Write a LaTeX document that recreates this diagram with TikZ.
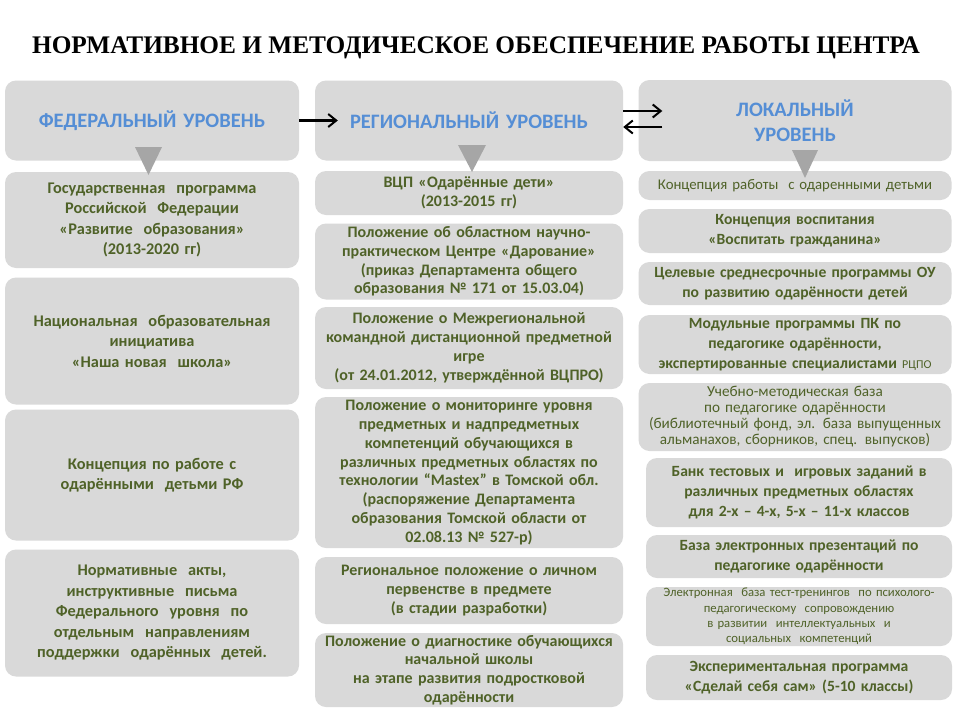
\documentclass[tikz,border=0pt]{standalone}
\usepackage{fontspec}
\setmainfont{Carlito}
\newfontfamily\titlefont{Liberation Serif}
\usetikzlibrary{arrows.meta}

\definecolor{boxgray}{HTML}{D9D9D9}
\definecolor{trigray}{HTML}{A6A6A6}
\definecolor{textgreen}{HTML}{4F6228}
\definecolor{headblue}{HTML}{558ED5}

\tikzset{
	box/.style={fill=boxgray, rounded corners=11pt, text=textgreen, align=center, inner sep=0pt},
	head/.style={box, text=headblue, minimum height=80, font=\bfseries\fontsize{20.5}{25}\selectfont},
	fedcol/.style={minimum width=294, text width=290},
	regcol/.style={minimum width=308, text width=306},
	loccol/.style={minimum width=313, text width=311},
	locnarrow/.style={minimum width=306, text width=304},
	fedtext/.style={font=\bfseries\fontsize{16.3}{20.5}\selectfont},
	regtext/.style={font=\bfseries\fontsize{16}{18.8}\selectfont},
	loctext/.style={font=\bfseries\fontsize{15.6}{20}\selectfont},
	pointer/.style={fill=trigray},
	link/.style={line width=2.4pt, -{Straight Barb[length=8pt,width=13pt,line width=2pt]}},
}

\begin{document}
\begin{tikzpicture}[x=1pt, y=-1pt]
	% Fondo y límites
	\fill[white] (0,0) rectangle (960,720);
	\useasboundingbox (0,0) rectangle (960,720);

	% Título
	\node[font=\titlefont\bfseries\fontsize{25.3}{30}\selectfont] (title) at (476,48)
		{НОРМАТИВНОЕ И МЕТОДИЧЕСКОЕ ОБЕСПЕЧЕНИЕ РАБОТЫ ЦЕНТРА};

	% Cabeceras de niveles
	\node[head, fedcol] (fed) at (152,120.5) {ФЕДЕРАЛЬНЫЙ УРОВЕНЬ};
	\node[head, regcol] (reg) at (469,120.5) {РЕГИОНАЛЬНЫЙ УРОВЕНЬ};
	\node[head, loccol, minimum height=81] (loc) at (795,120.5) {ЛОКАЛЬНЫЙ\\УРОВЕНЬ};

	% Nivel federal
	\node[box, fedcol, fedtext, minimum height=96] (f1) at (152,220)
		{Государственная~ программа\\Российской~ Федерации\\«Развитие~ образования»\\(2013-2020 гг)};
	\node[box, fedcol, fedtext, minimum height=127] (f2) at (152,341)
		{Национальная~ образовательная\\инициатива\\«Наша новая~ школа»\\[22pt]};
	\node[box, fedcol, fedtext, minimum height=131] (f3) at (152,475)
		{Концепция по работе с\\одарёнными~ детьми РФ};
	\node[box, fedcol, fedtext, minimum height=127] (f4) at (152,613)
		{Нормативные~ акты,\\инструктивные~ письма\\Федерального~ уровня~ по\\отдельным~ направлениям\\поддержки~ одарённых~ детей.};

	% Nivel regional
	\node[box, regcol, regtext, minimum height=44] (r1) at (469,193)
		{ВЦП «Одарённые дети»\\(2013-2015 гг)};
	\node[box, regcol, regtext, minimum height=76] (r2) at (469,261.5)
		{Положение об областном научно-\\практическом Центре «Дарование»\\(приказ Департамента общего\\образования № 171 от 15.03.04)};
	\node[box, regcol, regtext, minimum height=82] (r3) at (469,348)
		{Положение о Межрегиональной\\командной дистанционной предметной\\игре\\(от 24.01.2012, утверждённой ВЦПРО)};
	\node[box, regcol, regtext, minimum height=151] (r4) at (469,472.5)
		{Положение о мониторинге уровня\\предметных и надпредметных\\компетенций обучающихся в\\различных предметных областях по\\технологии “Mastex” в Томской обл.\\(распоряжение Департамента\\образования Томской области от\\02.08.13 № 527-р)};
	\node[box, regcol, regtext, minimum height=67] (r5) at (469,590.5)
		{Региональное положение о личном\\первенстве в предмете\\(в стадии разработки)};
	\node[box, regcol, regtext, minimum height=74] (r6) at (469,670)
		{Положение о диагностике обучающихся\\начальной школы\\на этапе развития подростковой\\одарённости};

	% Nivel local
	\node[box, loccol, minimum height=29, font=\fontsize{14.8}{17}\selectfont] (l1) at (795,185.5)
		{Концепция работы~ с одаренными детьми};
	\node[box, loccol, loctext, minimum height=44] (l2) at (795,231)
		{Концепция воспитания\\«Воспитать гражданина»};
	\node[box, loccol, loctext, minimum height=43] (l3) at (795,283.5)
		{Целевые среднесрочные программы ОУ\\по развитию одарённости детей};
	\node[box, loccol, loctext, minimum height=59] (l4) at (795,344.5)
		{Модульные программы ПК по\\педагогике одарённости,\\экспертированные специалистами {\mdseries\fontsize{12}{14}\selectfont РЦПО}};
	\node[box, loccol, minimum height=68, font=\fontsize{15.2}{16}\selectfont] (l5) at (795,417)
		{Учебно-методическая база\\по педагогике одарённости\\(библиотечный фонд, эл. база выпущенных\\альманахов, сборников, спец. выпусков)};
	\node[box, locnarrow, loctext, minimum height=69] (l6) at (799,492.5)
		{Банк тестовых и~ игровых заданий в\\различных предметных областях\\для 2-х – 4-х, 5-х – 11-х классов};
	\node[box, locnarrow, loctext, minimum height=43] (l7) at (799,556.5)
		{База электронных презентаций по\\педагогике одарённости};
	\node[box, locnarrow, minimum height=59, font=\fontsize{12.7}{15.3}\selectfont] (l8) at (799,616.5)
		{Электронная~ база тест-тренингов~ по психолого-\\педагогическому~ сопровождению\\в развитии~ интеллектуальных~ и\\социальных~ компетенций};
	\node[box, locnarrow, loctext, minimum height=45] (l9) at (799,677.5)
		{Экспериментальная программа\\«Сделай себя сам» (5-10 классы)};

	% Triángulos bajo las cabeceras
	\fill[pointer] (135,147) -- (162,147) -- (148.5,175) -- cycle;
	\fill[pointer] (458,145) -- (486,145) -- (472,172) -- cycle;
	\fill[pointer] (792,150) -- (818,150) -- (805,178) -- cycle;

	% Flechas entre niveles
	\coordinate (regin) at ([xshift=23pt]reg.west);
	\coordinate (locin) at ([xshift=24pt, yshift=9.5pt]loc.west);
	\coordinate (locout) at ([xshift=24pt, yshift=-6.5pt]loc.west);
	\draw[link] (fed.east) -- (regin);
	\draw[link] ([yshift=9.5pt]reg.east) -- (locin);
	\draw[link] (locout) -- ([yshift=-6.5pt]reg.east);
\end{tikzpicture}
\end{document}
